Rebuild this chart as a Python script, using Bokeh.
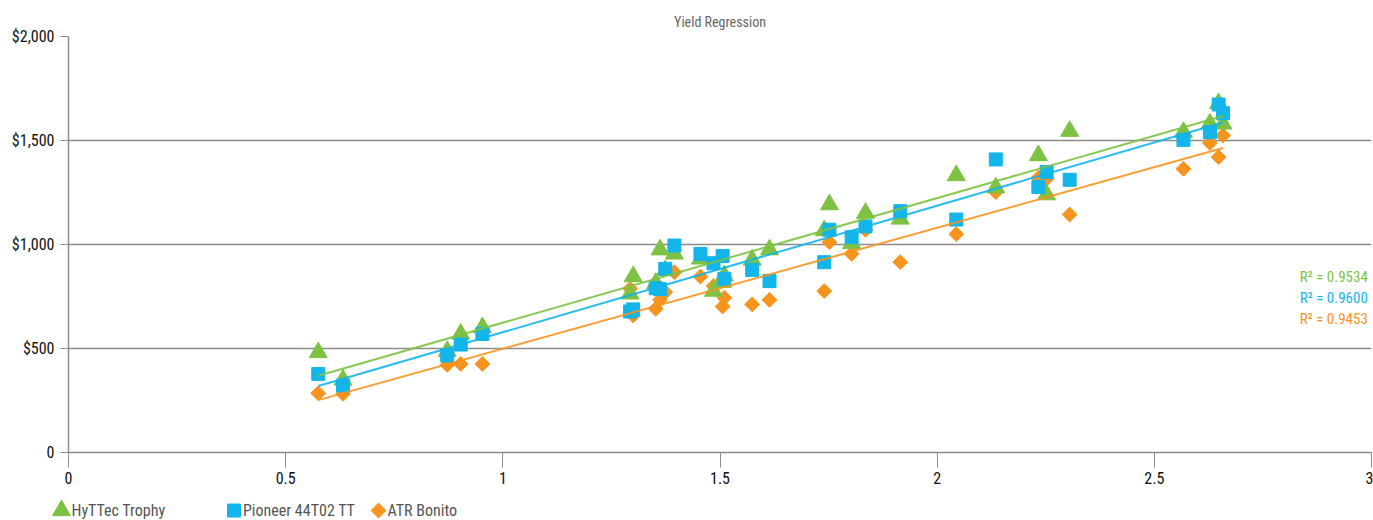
import numpy as np
from bokeh.plotting import figure
from bokeh.models import Range1d, FixedTicker, Label
from bokeh.core.properties import value
from bokeh.embed import file_html
from bokeh.resources import INLINE

# ---- data ----
x_vals = [0.575, 0.632, 0.872, 0.903, 0.953, 1.293, 1.300, 1.352, 1.362, 1.374,
          1.395, 1.455, 1.485, 1.510, 1.506, 1.574, 1.614, 1.740, 1.752, 1.803,
          1.835, 1.915, 2.044, 2.135, 2.233, 2.252, 2.305, 2.567, 2.628, 2.648, 2.658]
hyttec = [481, 349, 487, 570, 601, 763, 846, 814, 975, 875,
          955, 931, 776, 851, 819, 926, 975, 1067, 1192, 1006,
          1151, 1123, 1332, 1273, 1428, 1240, 1545, 1540, 1580, 1679, 1580]
pioneer = [378, 322, 466, 519, 570, 678, 688, 790, 785, 883,
           995, 955, 910, 835, 945, 878, 824, 915, 1071, 1035,
           1087, 1160, 1120, 1409, 1276, 1348, 1311, 1503, 1540, 1673, 1631]
atr = [285, 282, 421, 426, 426, 787, 659, 691, 734, 771,
       867, 846, 800, 744, 702, 712, 734, 776, 1011, 955,
       1071, 915, 1050, 1252, 1321, 1316, 1144, 1364, 1488, 1420, 1524]
series_names = ["HyTTec Trophy", "Pioneer 44T02 TT", "ATR Bonito"]
r2_texts = ["R\u00b2 = 0.9534", "R\u00b2 = 0.9600", "R\u00b2 = 0.9453"]
y_ticks = [0, 500, 1000, 1500, 2000]
y_tick_labels = ["0", "$500", "$1,000", "$1,500", "$2,000"]
x_ticks = [0, 0.5, 1, 1.5, 2, 2.5, 3]
x_tick_labels = ["0", "0.5", "1", "1.5", "2", "2.5", "3"]
chart_title = "Yield Regression"

# ---- style ----
FONT = "Roboto Condensed, DejaVu Sans Condensed, Roboto"
GREEN = "#7dc242"
BLUE = "#13b5ea"
ORANGE = "#f7941d"
GRID = "#8c8c8c"
W = 1373

p = figure(width=W, height=498, output_backend="svg", toolbar_location=None,
           x_range=Range1d(0, 3), y_range=Range1d(0, 2000),
           min_border_left=68, min_border_right=2, min_border_top=36,
           min_border_bottom=46)
p.outline_line_color = None
p.title.text = chart_title
p.title.align = "center"
p.title.text_font = FONT
p.title.text_font_size = "14px"
p.title.text_font_style = "normal"
p.title.text_color = "#666666"
p.title.standoff = 14

p.xgrid.visible = False
p.ygrid.ticker = FixedTicker(ticks=y_ticks)
p.ygrid.grid_line_color = GRID
p.ygrid.grid_line_width = 1.5

p.yaxis.ticker = FixedTicker(ticks=y_ticks)
p.yaxis.major_label_overrides = {t: l for t, l in zip(y_ticks, y_tick_labels)}
p.xaxis.ticker = FixedTicker(ticks=x_ticks)
p.xaxis.major_label_overrides = {t: l for t, l in zip(x_ticks, x_tick_labels)}
for ax in (p.xaxis, p.yaxis):
    ax.axis_line_color = GRID
    ax.axis_line_width = 1.5
    ax.major_tick_line_color = GRID
    ax.minor_tick_line_color = None
    ax.major_tick_in = 0
    ax.major_label_text_font = FONT
    ax.major_label_text_font_size = "16px"
    ax.major_label_text_color = "#111111"
p.yaxis.major_tick_out = 8
p.yaxis.major_label_standoff = 6
p.xaxis.major_tick_out = 15
p.xaxis.major_label_standoff = 4

xs = np.array(x_vals)
specs = {
    "t": (hyttec, GREEN, "triangle", 18, 0.0),
    "s": (pioneer, BLUE, "square", 13, 0.0),
    "d": (atr, ORANGE, "square", 10.5, np.pi / 4),
}
for key in ["d", "t", "s"]:
    ys, col, mk, sz, ang = specs[key]
    p.scatter(x_vals, ys, marker=mk, size=sz, angle=ang,
              fill_color=col, line_color=col)

# trend lines
x_line = [min(x_vals), max(x_vals)]
for key in ["t", "s", "d"]:
    ys, col, *_ = specs[key]
    m, b = np.polyfit(xs, np.array(ys, dtype=float), 1)
    p.line(x_line, [m * x_line[0] + b, m * x_line[1] + b], line_color=col,
           line_width=2, line_alpha=0.9)

# R² labels
for txt, col, yv in zip(r2_texts, [GREEN, BLUE, ORANGE], [846, 745, 644]):
    p.add_layout(Label(x=2.835, y=yv, text=txt, text_color=col,
                       text_font=FONT, text_font_size="15px",
                       text_baseline="middle"))

# legend strip below the chart (separate root so its frame spans the full width)
lg = figure(width=W, height=22, output_backend="svg", toolbar_location=None,
            x_range=Range1d(0, W), y_range=Range1d(0, 22),
            min_border=0, min_border_left=0, min_border_right=0,
            min_border_top=0, min_border_bottom=0,
            x_axis_type=None, y_axis_type=None)
lg.grid.visible = False
lg.outline_line_color = None
leg_marker_x = [61.0, 233.5, 378.0]
leg_text_x = [71.0, 242.5, 387.0]
for key, mx, tx, name in zip(["t", "s", "d"], leg_marker_x, leg_text_x, series_names):
    _, col, mk, sz, ang = specs[key]
    lg.scatter([mx], [10], marker=mk, size=sz, angle=ang,
               fill_color=col, line_color=col)
    lg.text([tx], [10], text=[name], text_baseline="middle",
            text_font=value(FONT), text_font_size=value("16px"),
            text_color="#555555")

open("out.html", "w").write(file_html([p, lg], INLINE))
